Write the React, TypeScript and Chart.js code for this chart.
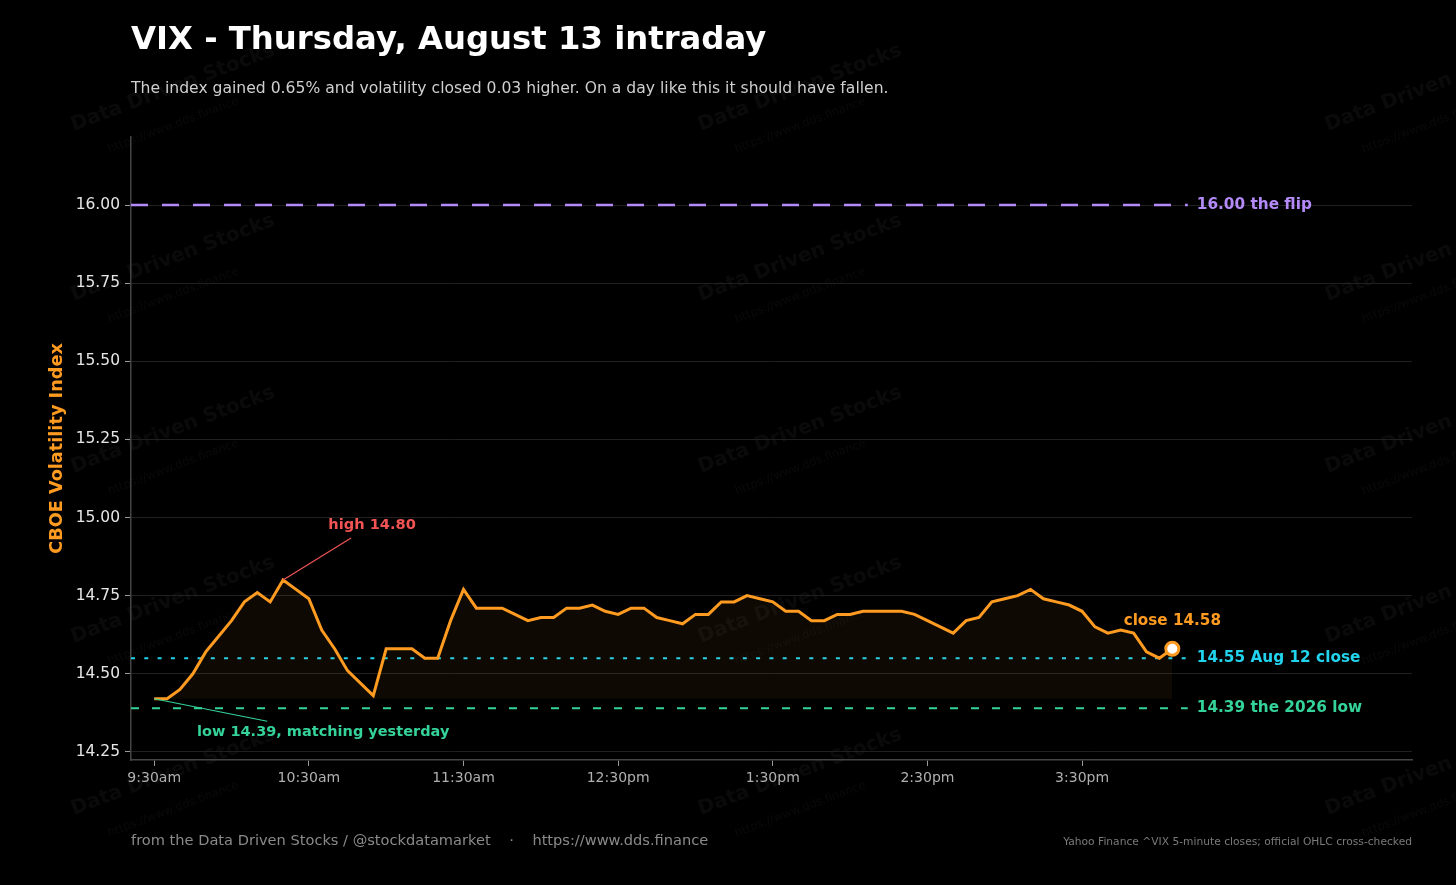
import React, { useEffect, useRef } from "react";
import { Chart, registerables } from "chart.js";

Chart.register(...registerables);

// ---------- data ----------
const times: string[] = [
  "09:30", "09:35", "09:40", "09:45", "09:50", "09:55",
  "10:00", "10:05", "10:10", "10:15", "10:20", "10:25", "10:30", "10:35", "10:40", "10:45", "10:50", "10:55",
  "11:00", "11:05", "11:10", "11:15", "11:20", "11:25", "11:30", "11:35", "11:40", "11:45", "11:50", "11:55",
  "12:00", "12:05", "12:10", "12:15", "12:20", "12:25", "12:30", "12:35", "12:40", "12:45", "12:50", "12:55",
  "13:00", "13:05", "13:10", "13:15", "13:20", "13:25", "13:30", "13:35", "13:40", "13:45", "13:50", "13:55",
  "14:00", "14:05", "14:10", "14:15", "14:20", "14:25", "14:30", "14:35", "14:40", "14:45", "14:50", "14:55",
  "15:00", "15:05", "15:10", "15:15", "15:20", "15:25", "15:30", "15:35", "15:40", "15:45", "15:50", "15:55",
  "16:00", "16:05",
];

const vix: number[] = [
  14.42, 14.42, 14.45, 14.50, 14.57, 14.62,
  14.67, 14.73, 14.76, 14.73, 14.80, 14.77, 14.74, 14.64, 14.58, 14.51, 14.47, 14.43,
  14.58, 14.58, 14.58, 14.55, 14.55, 14.67, 14.77, 14.71, 14.71, 14.71, 14.69, 14.67,
  14.68, 14.68, 14.71, 14.71, 14.72, 14.70, 14.69, 14.71, 14.71, 14.68, 14.67, 14.66,
  14.69, 14.69, 14.73, 14.73, 14.75, 14.74, 14.73, 14.70, 14.70, 14.67, 14.67, 14.69,
  14.69, 14.70, 14.70, 14.70, 14.70, 14.69, 14.67, 14.65, 14.63, 14.67, 14.68, 14.73,
  14.74, 14.75, 14.77, 14.74, 14.73, 14.72, 14.70, 14.65, 14.63, 14.64, 14.63, 14.57,
  14.55, 14.58,
];

const xTickTimes: string[] = ["09:30", "10:30", "11:30", "12:30", "13:30", "14:30", "15:30"];
const xTickLabels: string[] = ["9:30am", "10:30am", "11:30am", "12:30pm", "1:30pm", "2:30pm", "3:30pm"];
const yTickValues: number[] = [14.25, 14.5, 14.75, 15.0, 15.25, 15.5, 15.75, 16.0];

const flipLevel = 16.0;
const prevClose = 14.55;
const yearLow = 14.39;
const dayHigh = 14.8;
const dayLowLabel = 14.39;
const closeValue = 14.58;
const fillBase = 14.42;

const xStart = "09:21";
const xEnd = "17:38";
const refLineEnd = "16:11";
const yMin = 14.224;
const yMax = 16.218;

// ---------- helpers ----------
const toMin = (t: string) => {
  const [h, m] = t.split(":").map(Number);
  return h * 60 + m - (9 * 60 + 30);
};

const ORANGE = "#ff9b21";
const PURPLE = "#b38af7";
const CYAN = "#22d3ee";
const GREEN = "#34d399";
const RED = "#f25454";
const FONT = "'DejaVu Sans', 'Noto Sans', sans-serif";

const W = 1456;
const H = 885;

const points = times.map((t, i) => ({ x: toMin(t), y: vix[i] }));

export default function App() {
  const ref = useRef<HTMLCanvasElement | null>(null);

  useEffect(() => {
    document.body.style.margin = "0";
    document.body.style.background = "#000";
    const canvas = ref.current;
    if (!canvas) return;

    const hiIdx = vix.indexOf(dayHigh);
    const lastIdx = vix.length - 1;

    const decor = {
      id: "decor",
      beforeDraw(chart: any) {
        const ctx = chart.ctx;
        ctx.save();
        ctx.fillStyle = "#000";
        ctx.fillRect(0, 0, chart.width, chart.height);
        // watermarks
        const cols = [173, 800, 1427];
        const rows = [88, 258, 430, 600, 772];
        for (const cx of cols) {
          for (const cy of rows) {
            ctx.save();
            ctx.translate(cx, cy);
            ctx.rotate(-0.36);
            ctx.textAlign = "center";
            ctx.textBaseline = "middle";
            ctx.fillStyle = "rgba(255,255,255,0.04)";
            ctx.font = `bold 20px ${FONT}`;
            ctx.fillText("Data Driven Stocks", 0, 0);
            ctx.fillStyle = "rgba(255,255,255,0.035)";
            ctx.font = `11.5px ${FONT}`;
            ctx.fillText("https://www.dds.finance", -13, 35);
            ctx.restore();
          }
        }
        ctx.restore();
      },
      afterDatasetsDraw(chart: any) {
        const ctx = chart.ctx;
        const xs = chart.scales.x;
        const ys = chart.scales.y;
        ctx.save();
        // right-side reference labels
        const lx = xs.getPixelForValue(toMin(refLineEnd)) + 9;
        ctx.font = `bold 15.3px ${FONT}`;
        ctx.textAlign = "left";
        ctx.textBaseline = "middle";
        ctx.fillStyle = PURPLE;
        ctx.fillText(`${flipLevel.toFixed(2)} the flip`, lx, ys.getPixelForValue(flipLevel));
        ctx.fillStyle = CYAN;
        ctx.fillText(`${prevClose.toFixed(2)} Aug 12 close`, lx, ys.getPixelForValue(prevClose));
        ctx.fillStyle = GREEN;
        ctx.fillText(`${yearLow.toFixed(2)} the 2026 low`, lx, ys.getPixelForValue(yearLow));

        // high annotation
        const hx = xs.getPixelForValue(points[hiIdx].x);
        const hy = ys.getPixelForValue(points[hiIdx].y);
        ctx.strokeStyle = RED;
        ctx.lineWidth = 1.2;
        ctx.beginPath();
        ctx.moveTo(hx, hy);
        ctx.lineTo(hx + 68, hy - 42);
        ctx.stroke();
        ctx.fillStyle = RED;
        ctx.textAlign = "center";
        ctx.font = `bold 14.6px ${FONT}`;
        ctx.fillText(`high ${dayHigh.toFixed(2)}`, hx + 89, hy - 55);

        // low annotation
        const ox = xs.getPixelForValue(points[0].x);
        const oy = ys.getPixelForValue(points[0].y);
        ctx.strokeStyle = GREEN;
        ctx.lineWidth = 1.2;
        ctx.beginPath();
        ctx.moveTo(ox, oy);
        ctx.lineTo(ox + 113, oy + 22.5);
        ctx.stroke();
        ctx.fillStyle = GREEN;
        ctx.font = `bold 14.5px ${FONT}`;
        ctx.fillText(`low ${dayLowLabel.toFixed(2)}, matching yesterday`, ox + 169, oy + 33);

        // close label
        const cx = xs.getPixelForValue(points[lastIdx].x);
        const cy = ys.getPixelForValue(points[lastIdx].y);
        ctx.fillStyle = ORANGE;
        ctx.font = `bold 15.2px ${FONT}`;
        ctx.fillText(`close ${closeValue.toFixed(2)}`, cx, cy - 28);
        ctx.restore();
      },
      afterDraw(chart: any) {
        const ctx = chart.ctx;
        const area = chart.chartArea;
        ctx.save();
        ctx.textAlign = "left";
        ctx.textBaseline = "alphabetic";
        ctx.fillStyle = "#ffffff";
        ctx.font = `bold 32.3px ${FONT}`;
        ctx.fillText("VIX - Thursday, August 13 intraday", area.left, 49);
        ctx.fillStyle = "#cfcfcf";
        ctx.font = `15.6px ${FONT}`;
        ctx.fillText(
          "The index gained 0.65% and volatility closed 0.03 higher. On a day like this it should have fallen.",
          area.left,
          93
        );
        // y axis title
        ctx.save();
        ctx.translate(57, (area.top + area.bottom) / 2);
        ctx.rotate(-Math.PI / 2);
        ctx.textAlign = "center";
        ctx.textBaseline = "middle";
        ctx.fillStyle = ORANGE;
        ctx.font = `bold 17.7px ${FONT}`;
        ctx.fillText("CBOE Volatility Index", 0, 0);
        ctx.restore();
        // footers
        ctx.textBaseline = "middle";
        ctx.fillStyle = "#8a8a8a";
        ctx.font = `14.6px ${FONT}`;
        ctx.fillText(
          "from the Data Driven Stocks / @stockdatamarket    \u00b7    https://www.dds.finance",
          area.left,
          841
        );
        ctx.textAlign = "right";
        ctx.fillStyle = "#7a7a7a";
        ctx.font = `10.7px ${FONT}`;
        ctx.fillText("Yahoo Finance ^VIX 5-minute closes; official OHLC cross-checked", area.right, 842);
        ctx.restore();
      },
    };

    const refLine = (level: number) => [
      { x: toMin(xStart), y: level },
      { x: toMin(refLineEnd), y: level },
    ];

    const chart = new Chart(canvas, {
      type: "line",
      data: {
        datasets: [
          {
            data: [points[lastIdx]],
            showLine: false,
            pointRadius: 6.5,
            pointBackgroundColor: "#ffffff",
            pointBorderColor: ORANGE,
            pointBorderWidth: 3,
            order: 0,
          } as any,
          {
            data: points,
            borderColor: ORANGE,
            borderWidth: 3,
            pointRadius: 0,
            tension: 0,
            fill: { value: fillBase },
            backgroundColor: "rgba(255,155,33,0.055)",
            order: 1,
          },
          {
            data: refLine(flipLevel),
            borderColor: PURPLE,
            borderWidth: 2.5,
            borderDash: [17, 14],
            pointRadius: 0,
            fill: false,
            order: 2,
          },
          {
            data: refLine(prevClose),
            borderColor: CYAN,
            borderWidth: 2,
            borderDash: [4, 9.3],
            pointRadius: 0,
            fill: false,
            order: 2,
          },
          {
            data: refLine(yearLow),
            borderColor: GREEN,
            borderWidth: 2,
            borderDash: [8, 13],
            pointRadius: 0,
            fill: false,
            order: 2,
          },
        ],
      },
      options: {
        animation: false,
        responsive: false,
        events: [],
        layout: { padding: { top: 137, right: 44, left: 0, bottom: 0 } },
        plugins: {
          legend: { display: false },
          tooltip: { enabled: false },
          title: { display: false },
        },
        scales: {
          x: {
            type: "linear",
            min: toMin(xStart),
            max: toMin(xEnd),
            afterBuildTicks: (s: any) => {
              s.ticks = xTickTimes.map((t) => ({ value: toMin(t) }));
            },
            afterFit: (s: any) => {
              s.height = H - 760;
            },
            ticks: {
              autoSkip: false,
              maxRotation: 0,
              color: "#b0b0b0",
              font: { family: FONT, size: 14 },
              padding: 4,
              callback: (v: any) => {
                const i = xTickTimes.findIndex((t) => toMin(t) === v);
                return i >= 0 ? xTickLabels[i] : "";
              },
            },
            grid: {
              drawOnChartArea: false,
              drawTicks: true,
              tickLength: 6,
              tickColor: "#9a9a9a",
            },
            border: { display: true, color: "#444444", width: 1.5 },
          },
          y: {
            type: "linear",
            min: yMin,
            max: yMax,
            afterBuildTicks: (s: any) => {
              s.ticks = yTickValues.map((v) => ({ value: v }));
            },
            afterFit: (s: any) => {
              s.width = 131;
            },
            ticks: {
              color: "#e6e6e6",
              font: { family: FONT, size: 15.5 },
              padding: 5,
              callback: (v: any) => Number(v).toFixed(2),
            },
            grid: {
              color: "#202020",
              lineWidth: 1,
              tickLength: 6,
              tickColor: "#9a9a9a",
            },
            border: { display: true, color: "#444444", width: 1.5 },
          },
        },
      },
      plugins: [decor],
    });

    return () => chart.destroy();
  }, []);

  return (
    <div style={{ position: "fixed", left: 0, top: 0, width: W, height: H, background: "#000" }}>
      <canvas ref={ref} width={W} height={H} style={{ width: W, height: H, display: "block" }} />
    </div>
  );
}
